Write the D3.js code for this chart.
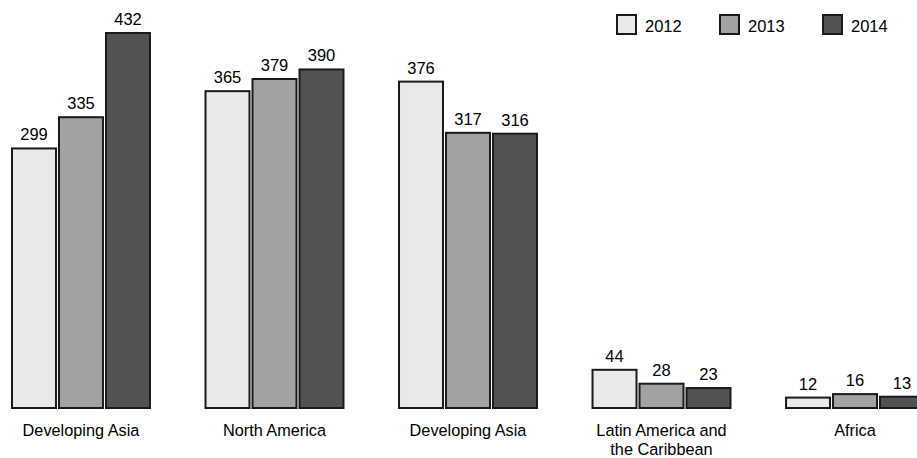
<!DOCTYPE html>
<html>
<head>
<meta charset="utf-8">
<script src="https://cdn.jsdelivr.net/npm/d3@7"></script>
<style>
  html, body { margin: 0; padding: 0; background: #fff; }
  svg { display: block; font-family: "Liberation Sans", Arial, Helvetica, sans-serif; }
</style>
</head>
<body>
<svg id="chart" width="917" height="458"></svg>
<script>
const categories = ["Developing Asia", "North America", "Developing Asia", "Latin America and\nthe Caribbean", "Africa"];
const years = ["2012", "2013", "2014"];
const values2012 = [299, 365, 376, 44, 12];
const values2013 = [335, 379, 317, 28, 16];
const values2014 = [432, 390, 316, 23, 13];
const colors = ["#e9e9e9", "#a2a2a2", "#525252"];

const seriesValues = [values2012, values2013, values2014];
const rows = categories.map((c, i) => ({
  key: i, label: c,
  vals: years.map((y, j) => ({ year: y, value: seriesValues[j][i] }))
}));

const svg = d3.select("#chart");
const baseline = 408;

const x0 = d3.scaleBand().domain(rows.map(r => r.key)).range([12, 924]).paddingInner(0.287).paddingOuter(0);
const x1 = d3.scaleBand().domain(years).range([0, x0.bandwidth()]).paddingInner(0.064);
const y = d3.scaleLinear().domain([0, 432]).range([baseline, 33]);
const color = d3.scaleOrdinal().domain(years).range(colors);

const g = svg.selectAll("g.grp").data(rows).join("g")
  .attr("class", "grp")
  .attr("transform", d => `translate(${x0(d.key)},0)`);

g.selectAll("rect").data(d => d.vals).join("rect")
  .attr("x", d => x1(d.year))
  .attr("y", d => y(d.value))
  .attr("width", x1.bandwidth())
  .attr("height", d => baseline - y(d.value))
  .attr("fill", d => color(d.year))
  .attr("stroke", "#1a1a1a")
  .attr("stroke-width", 2);

g.selectAll("text.val").data(d => d.vals).join("text")
  .attr("class", "val")
  .attr("x", d => x1(d.year) + x1.bandwidth() / 2)
  .attr("y", d => y(d.value) - 8)
  .attr("text-anchor", "middle")
  .attr("font-size", 16.5)
  .attr("fill", "#000")
  .text(d => d.value);

const lab = g.append("text")
  .attr("class", "cat")
  .attr("x", x0.bandwidth() / 2)
  .attr("y", 436)
  .attr("text-anchor", "middle")
  .attr("font-size", 16.3)
  .attr("fill", "#000");
lab.selectAll("tspan").data(d => d.label.split("\n")).join("tspan")
  .attr("x", x0.bandwidth() / 2)
  .attr("dy", (d, i) => i === 0 ? 0 : 18.5)
  .text(d => d);

// Legend
const legendX = d3.scalePoint().domain(years).range([617, 823]);
const lg = svg.selectAll("g.leg").data(years).join("g")
  .attr("class", "leg")
  .attr("transform", d => `translate(${legendX(d)},15)`);
lg.append("rect")
  .attr("width", 19).attr("height", 19)
  .attr("fill", d => color(d))
  .attr("stroke", "#1a1a1a").attr("stroke-width", 2);
lg.append("text")
  .attr("x", 28).attr("y", 17)
  .attr("font-size", 16.5)
  .attr("fill", "#000")
  .text(d => d);
</script>
</body>
</html>
